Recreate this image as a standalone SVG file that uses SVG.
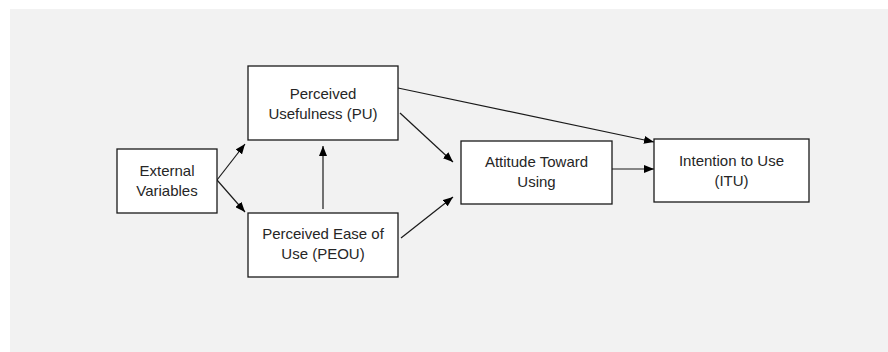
<svg xmlns="http://www.w3.org/2000/svg" width="888" height="352" viewBox="0 0 888 352">
<style>
.box{fill:#ffffff;stroke:#1a1a1a;stroke-width:1.3}
.lbl{font-family:"Liberation Sans",Arial,sans-serif;font-size:15px;fill:#262626;text-anchor:middle}
.edge{stroke:#1a1a1a;stroke-width:1.2;fill:none;marker-end:url(#ah)}
</style>
<defs>
<marker id="ah" viewBox="0 0 10 8" refX="10" refY="4" markerWidth="10" markerHeight="8" markerUnits="userSpaceOnUse" orient="auto">
<path d="M0,0 L10,4 L0,8 Z" fill="#000"/>
</marker>
</defs>
<rect x="0" y="0" width="888" height="352" fill="#ffffff"/>
<rect x="10" y="9" width="878" height="343" fill="#f2f2f2"/>
<g id="connectors">
<line class="edge" x1="217" y1="180" x2="245" y2="144"/>
<line class="edge" x1="217" y1="180" x2="245" y2="212"/>
<line class="edge" x1="323" y1="209" x2="323" y2="146"/>
<line class="edge" x1="398" y1="88" x2="654" y2="142"/>
<line class="edge" x1="400" y1="113" x2="453" y2="162"/>
<line class="edge" x1="401" y1="238" x2="453" y2="197"/>
<line class="edge" x1="612" y1="169" x2="654" y2="169"/>
</g>
<g id="ev">
<rect class="box" x="117" y="149" width="100" height="64"/>
<text class="lbl" x="167" y="176">External</text>
<text class="lbl" x="167" y="196">Variables</text>
</g>
<g id="pu">
<rect class="box" x="248" y="66" width="150" height="74"/>
<text class="lbl" x="323" y="99">Perceived</text>
<text class="lbl" x="323" y="119">Usefulness (PU)</text>
</g>
<g id="peou">
<rect class="box" x="248" y="213" width="150" height="64"/>
<text class="lbl" x="323" y="239">Perceived Ease of</text>
<text class="lbl" x="323" y="259">Use (PEOU)</text>
</g>
<g id="atu">
<rect class="box" x="461" y="141" width="151" height="63"/>
<text class="lbl" x="536.5" y="167">Attitude Toward</text>
<text class="lbl" x="536.5" y="187">Using</text>
</g>
<g id="itu">
<rect class="box" x="654" y="139" width="155" height="63"/>
<text class="lbl" x="731.5" y="166">Intention to Use</text>
<text class="lbl" x="731.5" y="186">(ITU)</text>
</g>
</svg>
